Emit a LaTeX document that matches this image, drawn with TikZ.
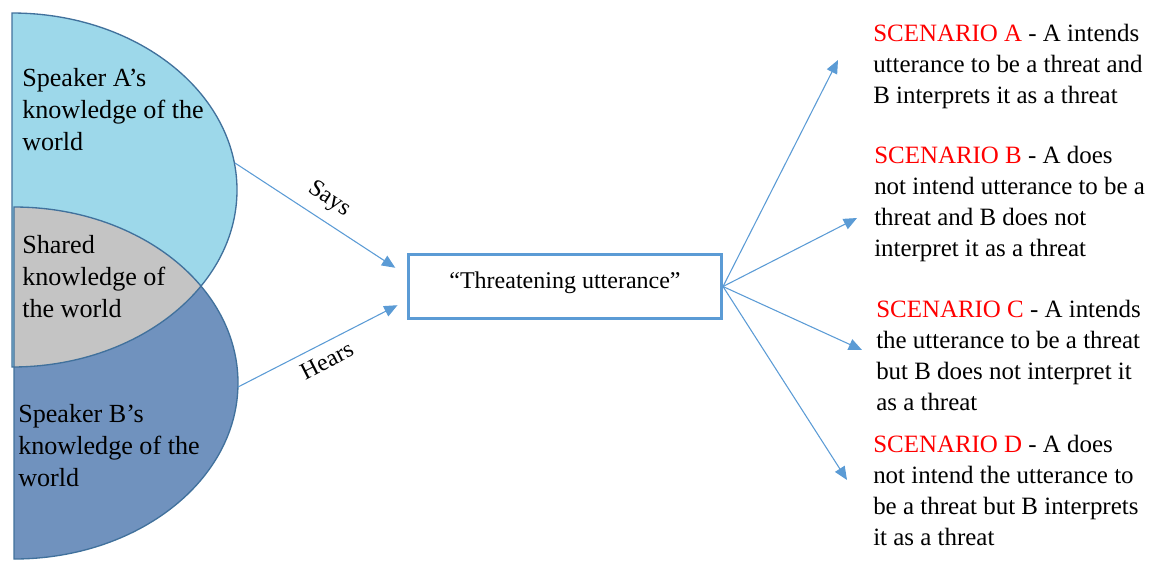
\documentclass[tikz,border=0pt]{standalone}
\usepackage{fontspec}
\setmainfont{Liberation Serif}
\usetikzlibrary{arrows.meta}
\definecolor{topblue}{HTML}{9DD8EA}
\definecolor{lowblue}{HTML}{7092BE}
\definecolor{sharedgray}{HTML}{C4C4C4}
\definecolor{edgeblue}{HTML}{41719C}
\definecolor{lineblue}{HTML}{5B9BD5}
\newcommand{\scenname}[1]{\textcolor{red}{#1}}

\begin{document}
\begin{tikzpicture}[x=0.75pt, y=-0.75pt,
    arr/.style={draw=lineblue, line width=0.8pt, -{Triangle[length=10pt,width=8.5pt]}},
    edge/.style={draw=edgeblue, line width=1pt},
    lefttext/.style={anchor=base west, align=left, inner sep=0pt, font=\fontsize{19.6}{23.8}\selectfont},
    scentext/.style={anchor=base west, align=left, inner sep=0pt, font=\fontsize{18.7}{23.25}\selectfont},
    armlabel/.style={sloped, font=\fontsize{18}{22}\selectfont}]
    \useasboundingbox (0,0) rectangle (1166,562);
    % Knowledge halves
    \fill[topblue] (12,367) arc[start angle=-90, end angle=90, x radius=168.75pt, y radius=132.75pt] -- cycle;
    \fill[lowblue] (14,559) arc[start angle=-90, end angle=90, x radius=168pt, y radius=132pt] -- cycle;
    \begin{scope}
        \clip (12,367) arc[start angle=-90, end angle=90, x radius=168.75pt, y radius=132.75pt] -- cycle;
        \fill[sharedgray] (14,559) arc[start angle=-90, end angle=90, x radius=168pt, y radius=132pt] -- cycle;
    \end{scope}
    \draw[edge] (12,367) arc[start angle=-90, end angle=90, x radius=168.75pt, y radius=132.75pt] -- cycle;
    \draw[edge] (14,559) arc[start angle=-90, end angle=90, x radius=168pt, y radius=132pt] -- cycle;
    % base anchor sits on the last line
    \node[lefttext] (knowA) at (22,150) {Speaker A’s\\knowledge of the\\world};
    \node[lefttext] (shared) at (22,317) {Shared\\knowledge of\\the world};
    \node[lefttext] (knowB) at (18,486) {Speaker B’s\\knowledge of the\\world};
    % Utterance
    \node[draw=lineblue, line width=2.25pt, minimum width=234.75pt, minimum height=48pt, inner sep=0pt,
          text depth=10pt, font=\fontsize{18}{22}\selectfont] (utt) at (565,286.5) {“Threatening utterance”};
    \coordinate (sayfrom) at (235,163);
    \coordinate (hearfrom) at (238,387);
    \draw[arr, shorten >=10.5pt] (sayfrom) -- (utt.176) node[armlabel, pos=0.48, above=4pt] (says) {Says};
    \draw[arr, shorten >=8pt] (hearfrom) -- (utt.185) node[armlabel, pos=0.48, below=3pt] (hears) {Hears};
    % Scenarios
    \coordinate (tipA) at (838,60);
    \coordinate (tipB) at (857,218);
    \coordinate (tipC) at (862,350);
    \coordinate (tipD) at (847,480);
    \foreach \t in {tipA,tipB,tipC,tipD}
        \draw[arr] (utt.east) -- (\t);
    \node[scentext] (scenA) at (873,103) {\scenname{SCENARIO A} - A intends\\utterance to be a threat and\\B interprets it as a threat};
    \node[scentext] (scenB) at (874,256) {\scenname{SCENARIO B} - A does\\not intend utterance to be a\\threat and B does not\\interpret it as a threat};
    \node[scentext] (scenC) at (876,410) {\scenname{SCENARIO C} - A intends\\the utterance to be a threat\\but B does not interpret it\\as a threat};
    \node[scentext] (scenD) at (873,545) {\scenname{SCENARIO D} - A does\\not intend the utterance to\\be a threat but B interprets\\it as a threat};
\end{tikzpicture}
\end{document}
